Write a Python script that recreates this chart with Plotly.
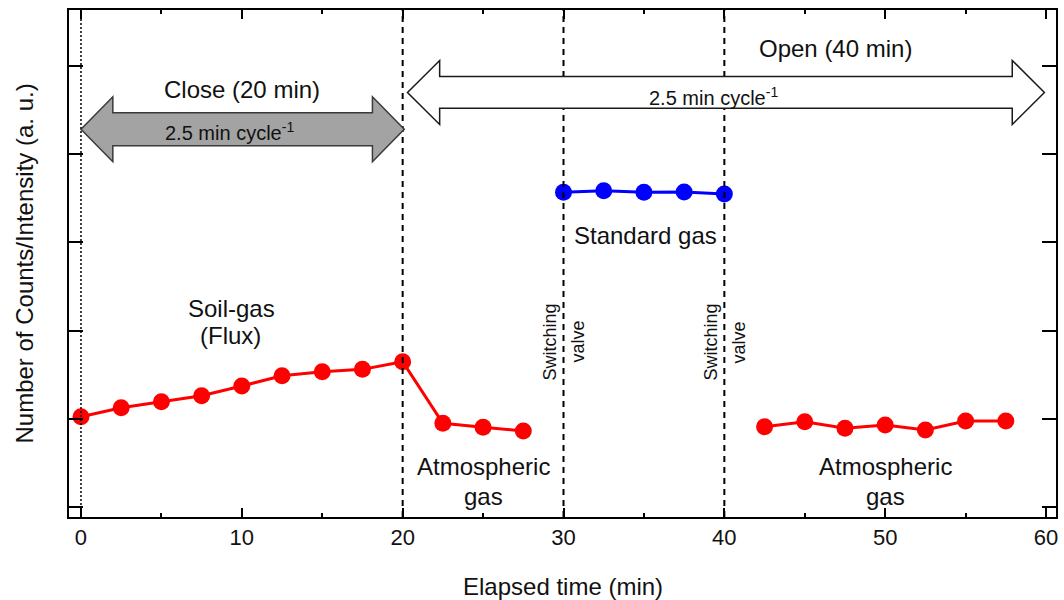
import plotly.graph_objects as go

# ---- data ----
soil_x = [0, 2.5, 5, 7.5, 10, 12.5, 15, 17.5, 20, 22.5, 25, 27.5]
soil_y = [1.024, 1.126, 1.194, 1.262, 1.372, 1.489, 1.534, 1.561, 1.647, 0.949, 0.904, 0.862]
std_x = [30, 32.5, 35, 37.5, 40]
std_y = [3.568, 3.586, 3.568, 3.571, 3.549]
atm_x = [42.5, 45, 47.5, 50, 52.5, 55, 57.5]
atm_y = [0.910, 0.967, 0.892, 0.930, 0.873, 0.975, 0.975]

x_ticks = [0, 10, 20, 30, 40, 50, 60]
y_ticks = [0, 1, 2, 3, 4, 5]
phase_lines = [20, 30, 40]

FONT = "Arial, Liberation Sans, sans-serif"

fig = go.Figure()
fig.add_trace(go.Scatter(x=soil_x, y=soil_y, mode="lines+markers",
                         line=dict(color="#ff0000", width=3),
                         marker=dict(color="#ff0000", size=17), showlegend=False))
fig.add_trace(go.Scatter(x=std_x, y=std_y, mode="lines+markers",
                         line=dict(color="#0000ff", width=3),
                         marker=dict(color="#0000ff", size=17), showlegend=False))
fig.add_trace(go.Scatter(x=atm_x, y=atm_y, mode="lines+markers",
                         line=dict(color="#ff0000", width=3),
                         marker=dict(color="#ff0000", size=17), showlegend=False))


def arrow_path(x0, x1, yc, shaft_h, head_h, head_len):
    pts = [
        (x0, yc),
        (x0 + head_len, yc + head_h),
        (x0 + head_len, yc + shaft_h),
        (x1 - head_len, yc + shaft_h),
        (x1 - head_len, yc + head_h),
        (x1, yc),
        (x1 - head_len, yc - head_h),
        (x1 - head_len, yc - shaft_h),
        (x0 + head_len, yc - shaft_h),
        (x0 + head_len, yc - head_h),
    ]
    return "M " + " L ".join(f"{px},{py}" for px, py in pts) + " Z"


shapes = []
# dotted line at t=0
shapes.append(dict(type="line", xref="x", yref="paper", x0=0, x1=0, y0=0, y1=1,
                   line=dict(color="black", width=1.5, dash="2px,2px")))
for xv in phase_lines:
    shapes.append(dict(type="line", xref="x", yref="paper", x0=xv, x1=xv, y0=0, y1=1,
                       line=dict(color="black", width=2, dash="6px,5px")))
# double arrows
shapes.append(dict(type="path", xref="x", yref="y",
                   path=arrow_path(0.0, 20.1, 4.283, 0.187, 0.368, 1.98),
                   fillcolor="#a3a3a3", line=dict(color="#3a3a3a", width=1.5)))
shapes.append(dict(type="path", xref="x", yref="y",
                   path=arrow_path(20.3, 59.9, 4.70, 0.18, 0.363, 2.0),
                   fillcolor="white", line=dict(color="#1a1a1a", width=1.5)))

ann = []


def txt(x, y, s, size=24, **kw):
    d = dict(x=x, y=y, xref="x", yref="y", text=s, showarrow=False,
             font=dict(family=FONT, size=size, color="#111111"),
             xanchor="center", yanchor="middle")
    d.update(kw)
    ann.append(d)


txt(10, 4.73, "Close (20 min)")
txt(9.24, 4.255, "2.5 min cycle<sup>-1</sup>", size=20)
txt(46.9, 5.20, "Open (40 min)")
txt(39.3, 4.65, "2.5 min cycle<sup>-1</sup>", size=20)
txt(35.1, 3.08, "Standard gas")
txt(9.37, 2.256, "Soil-gas")
txt(9.3, 1.94, "(Flux)")
for xv in (25, 50):
    txt(xv, 0.454, "Atmospheric")
    txt(xv, 0.125, "gas")
for xv in (30, 40):
    txt(xv, 1.87, "Switching", size=18, textangle=-90, xshift=-13)
    txt(xv, 1.87, "valve", size=18, textangle=-90, xshift=15)

# axis titles
ann.append(dict(x=0.5, y=0, xref="paper", yref="paper", text="Elapsed time (min)",
                showarrow=False, yshift=-69, xanchor="center", yanchor="middle",
                font=dict(family=FONT, size=24, color="#111111")))
ann.append(dict(x=0, y=0.5, xref="paper", yref="paper",
                text="Number of Counts/Intensity (a. u.)", textangle=-90,
                showarrow=False, xshift=-45, xanchor="center", yanchor="middle",
                font=dict(family=FONT, size=24, color="#111111")))

fig.update_layout(
    width=1064, height=600,
    margin=dict(l=69, r=6, t=10, b=83),
    plot_bgcolor="white", paper_bgcolor="white",
    shapes=shapes, annotations=ann,
    font=dict(family=FONT, size=24, color="#111111"),
    xaxis=dict(range=[-0.745, 60.62], tickvals=x_ticks, ticks="inside", ticklen=9,
               tickwidth=1.5, tickcolor="black", showline=True, linecolor="black",
               linewidth=2, mirror="ticks", showgrid=False, zeroline=False,
               tickfont=dict(family=FONT, size=22, color="#111111"),
               minor=dict(dtick=5, ticks="inside", ticklen=4, tickwidth=1.5,
                          tickcolor="black", showgrid=False)),
    yaxis=dict(range=[-0.113, 5.635], tickvals=y_ticks, ticks="inside", ticklen=14,
               tickwidth=1.5, tickcolor="black", showline=True, linecolor="black",
               linewidth=2, mirror="ticks", showgrid=False, zeroline=False,
               showticklabels=False),
)

fig.write_html("out.html", config={"displayModeBar": False},
               post_script="document.body.style.margin='0';document.body.style.overflow='hidden';")
